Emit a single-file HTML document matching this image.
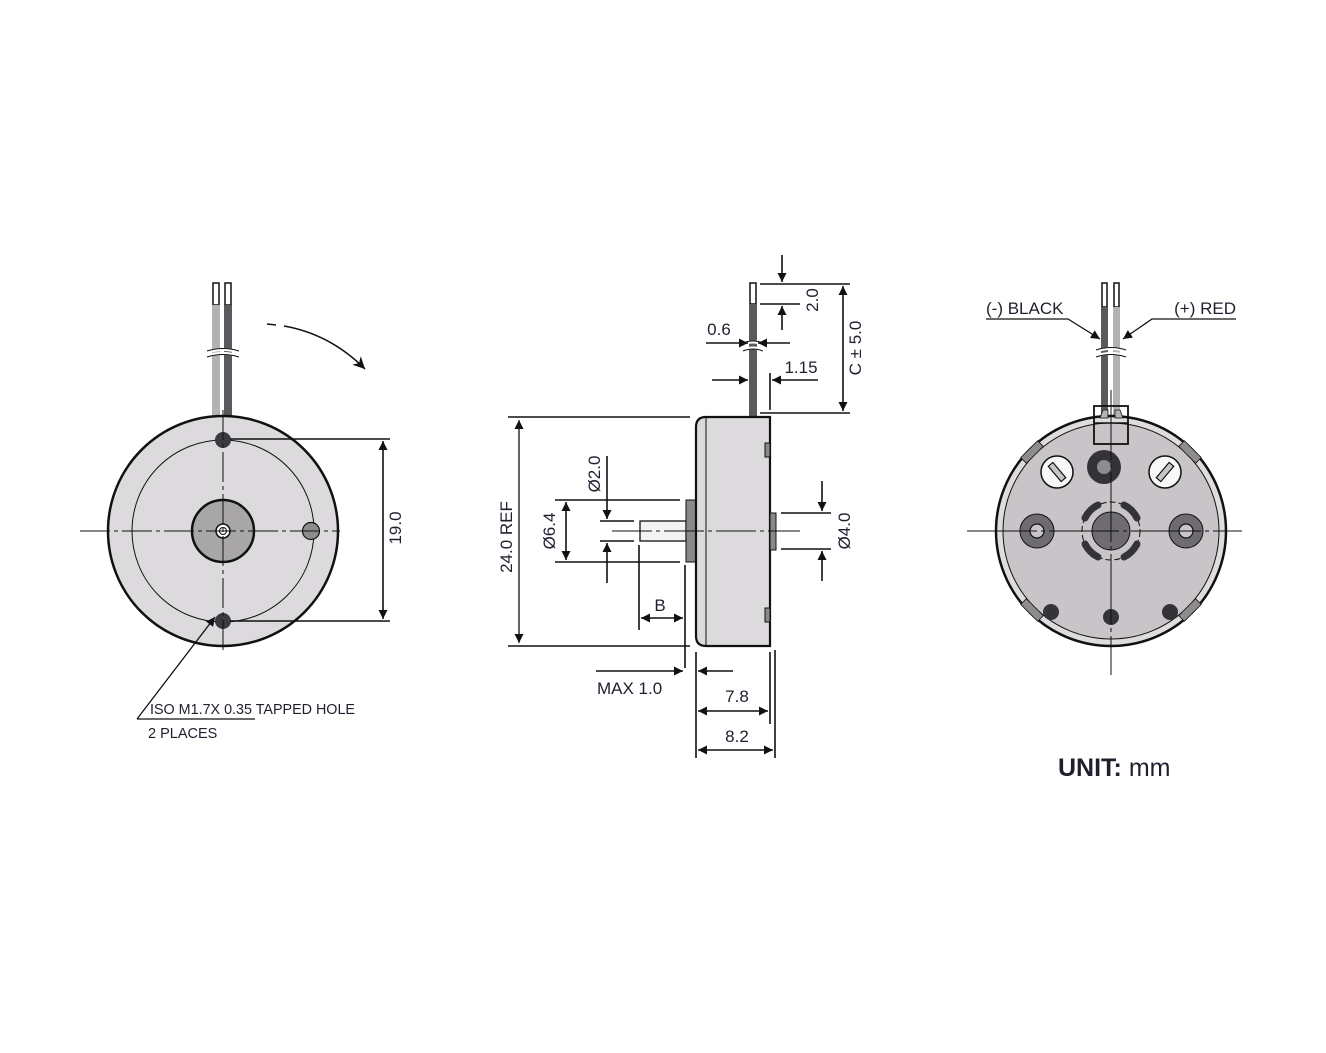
<!DOCTYPE html>
<html><head><meta charset="utf-8"><style>
html,body{margin:0;padding:0;background:#fff;}
svg{display:block;}
text{font-family:"Liberation Sans",sans-serif;fill:#1f1f2e;}
</style></head><body>
<svg width="1326" height="1053" viewBox="0 0 1326 1053" xmlns="http://www.w3.org/2000/svg">
<defs>
<marker id="a" viewBox="0 0 10 10" refX="10" refY="5" markerWidth="15" markerHeight="9" markerUnits="userSpaceOnUse" orient="auto-start-reverse"><path d="M0,0 L10,5 L0,10 z" fill="#111"/></marker>
<marker id="b" viewBox="0 0 10 10" refX="10" refY="5" markerWidth="20" markerHeight="12" markerUnits="userSpaceOnUse" orient="auto"><path d="M0,0 L10,5 L0,10 L3,5 z" fill="#111"/></marker>
</defs>
<g stroke="#111" fill="none">
<!-- ============ LEFT VIEW ============ -->
<rect x="213" y="283" width="6" height="22" fill="#fff" stroke-width="1.5"/>
<rect x="225" y="283" width="6" height="22" fill="#fff" stroke-width="1.5"/>
<rect x="212" y="305" width="8" height="113" fill="#b4b2b4" stroke="none"/>
<rect x="224" y="305" width="8" height="113" fill="#5a5a5e" stroke="none"/>
<path d="M207,352 q16,-5 32,0 M207,356 q16,-5 32,0" stroke="#fff" stroke-width="3"/>
<path d="M207,351 q16,-5 32,0 M207,357 q16,-5 32,0" stroke-width="1"/>
<circle cx="223" cy="531" r="115" fill="#dcdadc" stroke-width="2.5"/>
<circle cx="223" cy="531" r="91" stroke-width="1"/>
<circle cx="223" cy="531" r="31" fill="#a9a6a8" stroke-width="2.5"/>
<circle cx="223" cy="531" r="7" fill="#fff" stroke-width="1.5"/>
<circle cx="223" cy="531" r="3.5" stroke-width="1"/>
<circle cx="223" cy="440" r="8" fill="#3a3a40" stroke="none"/>
<circle cx="223" cy="621" r="8" fill="#3a3a40" stroke="none"/>
<circle cx="311" cy="531" r="8.5" fill="#8e8c8e" stroke-width="1.2"/>
<path d="M80,531 H340 M223,410 V650" stroke-width="1" stroke-dasharray="30,4,4,4"/>
<path d="M230,439 H390 M230,621 H390" stroke-width="1.6"/>
<path d="M383,441 V619" stroke-width="1.6" marker-start="url(#a)" marker-end="url(#a)"/>
<path d="M267,324 L276,325 M284,326 Q330,334 365,369" stroke-width="1.6" marker-end="url(#b)"/>
<path d="M137,719 L215,617" stroke-width="1.3" marker-end="url(#a)"/>
<path d="M137,719 H255" stroke-width="1.3"/>
<!-- ============ MIDDLE VIEW ============ -->
<rect x="750" y="283" width="6" height="21" fill="#fff" stroke-width="1.5"/>
<rect x="749" y="304" width="8" height="113" fill="#5a5a5e" stroke="none"/>
<path d="M743,344 q10,-4 20,0 M743,350 q10,-4 20,0" stroke="#fff" stroke-width="3"/>
<path d="M743,343 q10,-4 20,0 M743,351 q10,-4 20,0" stroke-width="1"/>
<rect x="640" y="521" width="46" height="20" fill="#f3f3f3" stroke-width="1.3"/>
<rect x="686" y="500" width="10" height="62" fill="#8a888a" stroke-width="1"/>
<path d="M706,417 H770 V646 H706 Q696,646 696,636 V427 Q696,417 706,417 Z" fill="#dcdadc" stroke-width="2.2"/>
<path d="M706,418 V645" stroke-width="1"/>
<rect x="765" y="443" width="5" height="14" fill="#8a888a" stroke-width="1"/>
<rect x="765" y="608" width="5" height="14" fill="#8a888a" stroke-width="1"/>
<rect x="770" y="513" width="6" height="37" fill="#8a888a" stroke-width="1"/>
<path d="M612,531 H800" stroke-width="1" stroke-dasharray="40,4,4,4"/>
<path d="M508,417 H690 M508,646 H690" stroke-width="1.6"/>
<path d="M519,420 V643" stroke-width="1.3" marker-start="url(#a)" marker-end="url(#a)"/>
<path d="M555,500 H680 M555,562 H680" stroke-width="1.6"/>
<path d="M566,502 V560" stroke-width="1.6" marker-start="url(#a)" marker-end="url(#a)"/>
<path d="M600,521 H634 M600,541 H634" stroke-width="1.6"/>
<path d="M607,456 V519" stroke-width="1.6" marker-end="url(#a)"/>
<path d="M607,583 V543" stroke-width="1.6" marker-end="url(#a)"/>
<path d="M639,545 V630 M685,565 V668" stroke-width="1.6"/>
<path d="M641,618 H683" stroke-width="1.6" marker-start="url(#a)" marker-end="url(#a)"/>
<path d="M781,513 H831 M781,549 H831" stroke-width="1.6"/>
<path d="M822,481 V511" stroke-width="1.6" marker-end="url(#a)"/>
<path d="M822,581 V551" stroke-width="1.6" marker-end="url(#a)"/>
<path d="M596,671 H683" stroke-width="1.6" marker-end="url(#a)"/>
<path d="M733,671 H698" stroke-width="1.6" marker-end="url(#a)"/>
<path d="M696,652 V758 M770,652 V724 M775,650 V758" stroke-width="1.6"/>
<path d="M698,711 H768" stroke-width="1.6" marker-start="url(#a)" marker-end="url(#a)"/>
<path d="M698,750 H773" stroke-width="1.6" marker-start="url(#a)" marker-end="url(#a)"/>
<path d="M760,284 H850 M760,304 H800 M760,413 H850" stroke-width="1.6"/>
<path d="M782,255 V282" stroke-width="1.6" marker-end="url(#a)"/>
<path d="M782,330 V306" stroke-width="1.6" marker-end="url(#a)"/>
<path d="M843,286 V411" stroke-width="1.6" marker-start="url(#a)" marker-end="url(#a)"/>
<path d="M706,343 H748" stroke-width="1.6" marker-end="url(#a)"/>
<path d="M790,343 H758" stroke-width="1.6" marker-end="url(#a)"/>
<path d="M712,380 H748" stroke-width="1.6" marker-end="url(#a)"/>
<path d="M770,373 V410" stroke-width="1.6"/>
<path d="M818,380 H772" stroke-width="1.6" marker-end="url(#a)"/>
<!-- ============ RIGHT VIEW ============ -->
<rect x="1102" y="283" width="5" height="24" fill="#fff" stroke-width="1.5"/>
<rect x="1114" y="283" width="5" height="24" fill="#fff" stroke-width="1.5"/>
<rect x="1101" y="307" width="7" height="112" fill="#5a5a5e" stroke="none"/>
<rect x="1113" y="307" width="7" height="112" fill="#b4b2b4" stroke="none"/>
<path d="M1096,351 q15,-5 30,0 M1096,356 q15,-5 30,0" stroke="#fff" stroke-width="3"/>
<path d="M1096,350 q15,-5 30,0 M1096,357 q15,-5 30,0" stroke-width="1"/>
<circle cx="1111" cy="531" r="115" fill="#dedcde" stroke-width="2.5"/>
<circle cx="1111" cy="531" r="108" fill="#c8c4c8" stroke-width="1"/>
<g fill="#8e8c8e" stroke-width="0.8">
<rect x="-4" y="-12" width="8" height="24" transform="translate(1032,452) rotate(45)"/>
<rect x="-4" y="-12" width="8" height="24" transform="translate(1190,452) rotate(-45)"/>
<rect x="-4" y="-12" width="8" height="24" transform="translate(1032,610) rotate(-45)"/>
<rect x="-4" y="-12" width="8" height="24" transform="translate(1190,610) rotate(45)"/>
</g>
<rect x="1094" y="406" width="34" height="38" stroke-width="1.8"/>
<path d="M1094,423 H1128" stroke-width="1.5"/>
<path d="M1100,418 L1103,410 H1108 V418 Z M1115,418 V410 H1120 L1123,418 Z" fill="#b4b2b4" stroke-width="0.8"/>
<circle cx="1057" cy="472" r="16" fill="#f8f8f8" stroke-width="1.5"/>
<rect x="-3" y="-10" width="6" height="20" fill="#c8c4c8" stroke-width="1.2" transform="translate(1057,472) rotate(-40)"/>
<circle cx="1165" cy="472" r="16" fill="#f8f8f8" stroke-width="1.5"/>
<rect x="-3" y="-10" width="6" height="20" fill="#c8c4c8" stroke-width="1.2" transform="translate(1165,472) rotate(40)"/>
<circle cx="1104" cy="467" r="17" fill="#333338" stroke="none"/>
<circle cx="1104" cy="467" r="7" fill="#8e8c8e" stroke="none"/>
<circle cx="1037" cy="531" r="17" fill="#6e6c70" stroke-width="1"/>
<circle cx="1037" cy="531" r="7" fill="#c8c4c8" stroke-width="1.2"/>
<circle cx="1186" cy="531" r="17" fill="#6e6c70" stroke-width="1"/>
<circle cx="1186" cy="531" r="7" fill="#c8c4c8" stroke-width="1.2"/>
<circle cx="1111" cy="531" r="29" stroke-width="1" stroke-dasharray="6,3"/>
<circle cx="1111" cy="531" r="19" fill="#6e6c70" stroke-width="1"/>
<g stroke="#333338" stroke-width="7" stroke-linecap="round">
<path d="M1085,518 A29,29 0 0 1 1098,505"/>
<path d="M1124,505 A29,29 0 0 1 1137,518"/>
<path d="M1137,544 A29,29 0 0 1 1124,557"/>
<path d="M1098,557 A29,29 0 0 1 1085,544"/>
</g>
<circle cx="1051" cy="612" r="8" fill="#333338" stroke="none"/>
<circle cx="1111" cy="617" r="8" fill="#333338" stroke="none"/>
<circle cx="1170" cy="612" r="8" fill="#333338" stroke="none"/>
<path d="M967,531 H1242 M1111,390 V675" stroke-width="1" stroke-dasharray="70,4,4,4"/>
<path d="M986,319 H1068 L1100,339" stroke-width="1.3" marker-end="url(#a)"/>
<path d="M1236,319 H1152 L1123,339" stroke-width="1.3" marker-end="url(#a)"/>
</g>
<!-- TEXT -->
<text x="150" y="714" font-size="14.5" textLength="205" lengthAdjust="spacingAndGlyphs">ISO M1.7X 0.35 TAPPED HOLE</text>
<text x="148" y="738" font-size="14.5">2 PLACES</text>
<text transform="translate(401,528) rotate(-90)" font-size="17" text-anchor="middle">19.0</text>
<text transform="translate(512,537) rotate(-90)" font-size="17" text-anchor="middle">24.0 REF</text>
<text transform="translate(555,531) rotate(-90)" font-size="17" text-anchor="middle">Ø6.4</text>
<text transform="translate(600,474) rotate(-90)" font-size="17" text-anchor="middle">Ø2.0</text>
<text transform="translate(850,531) rotate(-90)" font-size="17" text-anchor="middle">Ø4.0</text>
<text transform="translate(818,300) rotate(-90)" font-size="17" text-anchor="middle">2.0</text>
<text transform="translate(861,348) rotate(-90)" font-size="17" text-anchor="middle">C ± 5.0</text>
<text x="660" y="611" font-size="17" text-anchor="middle">B</text>
<text x="597" y="694" font-size="17">MAX 1.0</text>
<text x="737" y="702" font-size="17" text-anchor="middle">7.8</text>
<text x="737" y="742" font-size="17" text-anchor="middle">8.2</text>
<text x="719" y="335" font-size="17" text-anchor="middle">0.6</text>
<text x="801" y="373" font-size="17" text-anchor="middle">1.15</text>
<text x="986" y="314" font-size="17">(-) BLACK</text>
<text x="1236" y="314" font-size="17" text-anchor="end">(+) RED</text>
<text x="1058" y="776" font-size="25" fill="#000"><tspan font-weight="bold">UNIT:</tspan> mm</text>
</svg>
</body></html>
